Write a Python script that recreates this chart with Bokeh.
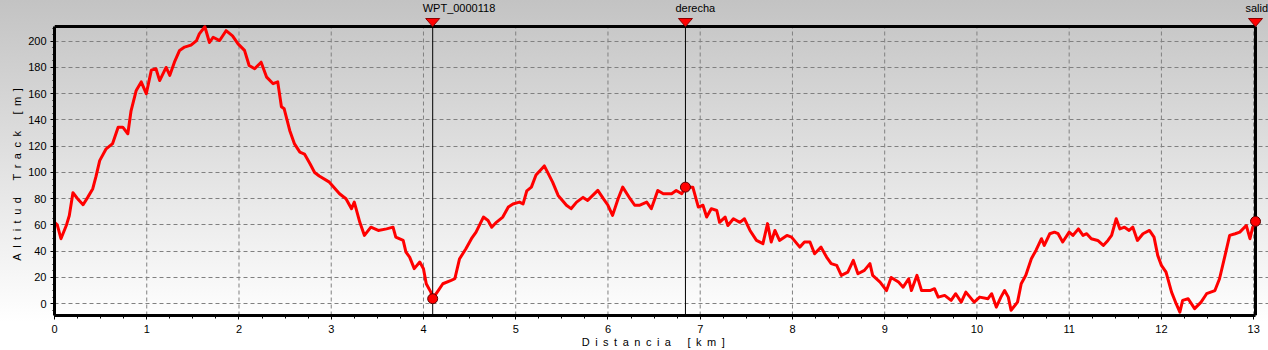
from bokeh.plotting import figure
from bokeh.models import Range1d, FixedTicker, ColumnDataSource
from bokeh.embed import file_html
from bokeh.resources import INLINE

# ---- data ----
dist_km = [0.00, 0.03, 0.07, 0.13, 0.16, 0.20, 0.25, 0.31, 0.36, 0.415, 0.45, 0.49, 0.56, 0.63, 0.69, 0.74,
           0.795, 0.83, 0.886, 0.94, 0.995, 1.05, 1.10, 1.14, 1.21, 1.25, 1.30, 1.356, 1.41, 1.48, 1.54, 1.57,
           1.63, 1.68, 1.72, 1.79, 1.86, 1.93, 1.99, 2.06, 2.11, 2.17, 2.24, 2.30, 2.37, 2.42, 2.46, 2.49,
           2.55, 2.60, 2.66, 2.71, 2.77, 2.82, 2.87, 2.98, 3.09, 3.16, 3.22, 3.25, 3.31, 3.36, 3.43, 3.51,
           3.60, 3.67, 3.70, 3.78, 3.81, 3.85, 3.90, 3.96, 4.00, 4.03, 4.08, 4.10, 4.16, 4.21, 4.30, 4.34,
           4.39, 4.46, 4.52, 4.57, 4.65, 4.70, 4.74, 4.79, 4.86, 4.92, 4.97, 5.04, 5.08, 5.12, 5.17, 5.22,
           5.31, 5.40, 5.46, 5.55, 5.60, 5.66, 5.73, 5.78, 5.89, 5.95, 6.00, 6.05, 6.11, 6.16, 6.24, 6.29,
           6.34, 6.42, 6.47, 6.54, 6.60, 6.69, 6.74, 6.80, 6.84, 6.92, 6.98, 7.03, 7.07, 7.12, 7.18, 7.21,
           7.27, 7.30, 7.36, 7.43, 7.48, 7.54, 7.61, 7.68, 7.73, 7.77, 7.81, 7.86, 7.94, 7.99, 8.08, 8.13,
           8.19, 8.24, 8.31, 8.37, 8.42, 8.48, 8.53, 8.60, 8.66, 8.71, 8.78, 8.84, 8.87, 8.95, 9.02, 9.07,
           9.15, 9.20, 9.26, 9.29, 9.35, 9.40, 9.49, 9.54, 9.58, 9.65, 9.72, 9.77, 9.83, 9.88, 9.97, 10.03,
           10.12, 10.16, 10.21, 10.26, 10.30, 10.34, 10.37, 10.44, 10.48, 10.53, 10.59, 10.64, 10.70, 10.73,
           10.79, 10.84, 10.88, 10.93, 11.00, 11.04, 11.10, 11.15, 11.19, 11.24, 11.31, 11.37, 11.42, 11.46,
           11.51, 11.55, 11.60, 11.65, 11.69, 11.74, 11.80, 11.87, 11.92, 11.96, 12.00, 12.05, 12.11, 12.16,
           12.20, 12.23, 12.29, 12.36, 12.43, 12.49, 12.58, 12.63, 12.69, 12.74, 12.80, 12.85, 12.92, 12.96,
           12.99, 13.02]
alt_m = [62, 60, 49.5, 60, 67, 84.5, 80, 75.4, 81, 87.6, 97, 109, 118, 122, 134.5, 134.5,
         129.5, 147, 162.5, 169, 160, 178, 179, 170, 180, 174, 184, 193, 195.5, 197, 200.5, 205.6,
         211, 199, 203, 200.5, 208, 204, 198, 193, 181.5, 179, 184, 172.6, 167.6, 169, 150, 148.5,
         132, 122, 115.5, 114, 106.6, 100, 97.3, 92.6, 83.8, 80, 72.4, 77.4, 62, 52, 58.3, 55.8,
         57, 58.3, 50.7, 48.2, 39.3, 35.5, 26.7, 31.7, 26.7, 15.2, 8.8, 3.8, 10, 15.2, 17.7, 19,
         34, 41.9, 49.5, 54.5, 66, 63.4, 58.3, 62, 66, 73.6, 76, 77.4, 76, 86, 88.8, 98,
         105, 92.6, 82.5, 75, 72.4, 77.4, 81, 78.7, 86.3, 80, 75, 67.3, 80, 88.8, 80, 75,
         75, 77.4, 72.4, 86.3, 83.8, 83.8, 86.3, 83.8, 88.8, 88.8, 73.6, 75, 66, 72.4, 71, 62,
         66, 59.6, 64.7, 62, 64.7, 55.8, 48.2, 45.7, 61, 47, 55.8, 48.2, 52, 50.7, 43.1, 47,
         47, 38, 43.1, 35.5, 30.5, 29.2, 21.6, 24, 33, 22.8, 25.4, 30.5, 21.6, 16.5, 10, 20,
         16.5, 12.6, 19, 10, 21.6, 10, 10, 11.4, 5, 6.3, 2.5, 7.6, 1.2, 8.8, 1.2, 5,
         3.8, 7.6, -2.6, 5, 10, 5, -5, 1.2, 15.2, 21.6, 34.3, 40.6, 49.5, 44.4,
         53.3, 54.5, 53.3, 47, 54.5, 52, 57, 52, 53.3, 49.5, 48.2, 44.4, 48.2, 52,
         64.7, 57, 58.3, 55.8, 58.3, 48.2, 53.3, 55.8, 50.7, 36.8, 29.2, 24, 8.8, 0,
         -6.4, 2.5, 3.8, -3.8, 1.2, 7.6, 10, 19, 36.8, 52, 53.3, 54.5, 59.6, 49.5,
         58.3, 62.7]

wp_names = ["WPT_0000118", "derecha", "salida"]
wp_dist = [4.10, 6.84, 13.02]
wp_alt = [3.8, 88.8, 62.7]

x_ticks = list(range(0, 14))
y_ticks = list(range(0, 201, 20))
x_minor = [t / 4 for t in range(0, 53)]
y_minor = [t * 5 for t in range(-1, 43)]
EN = "\u2002"
# trailing spaces keep the titles centred on the visible box rather than the wider frame
x_label = EN.join("Distancia") + EN * 3 + EN.join("[km]") + EN * 3
y_label = (EN.join("Altitud") + EN * 3 + EN.join("Track") + EN * 3 + EN.join("[m]") + EN * 6)

# ---- layout ----
X0, X1 = 0.0, 13.02          # visible box, data units
Y0, Y1 = -9.0, 211.2
W, H = 1268, 350
BOX_L, BOX_R, BOX_T, BOX_B = 54, 1255, 26, 315   # box edges in canvas pixels
ppx = (BOX_R - BOX_L) / (X1 - X0)
ppy = (BOX_B - BOX_T) / (Y1 - Y0)
XE = X1 + (W - BOX_R) / ppx   # frame reaches the canvas' right and top edges
YE = Y1 + BOX_T / ppy

FONT = "Liberation Sans"

p = figure(width=W, height=H, x_range=Range1d(X0, XE), y_range=Range1d(Y0, YE),
           output_backend="svg", toolbar_location=None,
           min_border_left=BOX_L, min_border_right=0, min_border_top=0,
           min_border_bottom=H - BOX_B)
p.styles = {"background-image": "linear-gradient(to bottom, #c3c3c3 0px, #ffffff 322px)"}
p.background_fill_alpha = 0
p.border_fill_alpha = 0
p.outline_line_color = None

for ax, ticks, minor, bounds in ((p.xaxis[0], x_ticks, x_minor, (X0, X1)),
                                 (p.yaxis[0], y_ticks, y_minor, (Y0, Y1))):
    ax.ticker = FixedTicker(ticks=ticks, minor_ticks=minor)
    ax.bounds = bounds
    ax.axis_line_color = "black"
    ax.axis_line_width = 3
    ax.major_tick_line_color = "black"
    ax.minor_tick_line_color = "black"
    ax.major_tick_in = 0
    ax.minor_tick_in = 0
    ax.major_label_text_font = FONT
    ax.major_label_text_font_size = "11px"
    ax.major_label_text_color = "black"
    ax.axis_label_text_font = FONT
    ax.axis_label_text_font_size = "11px"
    ax.axis_label_text_font_style = "normal"
    ax.axis_label_text_color = "black"

p.xaxis.axis_label = x_label
p.yaxis.axis_label = y_label
p.xaxis.major_tick_out = 4
p.xaxis.minor_tick_out = 3
p.xaxis.major_label_standoff = 5
p.xaxis.axis_label_standoff = 0
p.yaxis.major_tick_out = 4
p.yaxis.minor_tick_out = 2
p.yaxis.major_label_standoff = 4
p.yaxis.axis_label_standoff = 2

# horizontal grid from the library; vertical grid limited to the box
p.xgrid.visible = False
p.ygrid.ticker = FixedTicker(ticks=y_ticks)
p.ygrid.grid_line_color = "#808080"
p.ygrid.grid_line_dash = "4 3"
p.ygrid.bounds = (X0, X1)
p.segment(x0=x_ticks, y0=[Y0] * len(x_ticks), x1=x_ticks, y1=[Y1] * len(x_ticks),
          line_color="#808080", line_dash="4 3", line_width=1)

# box: top and right sides
p.segment(x0=[X0, X1], y0=[Y1, Y0], x1=[X1, X1], y1=[Y1, Y1],
          line_color="black", line_width=3)

src = ColumnDataSource(dict(x=dist_km, y=alt_m))
p.line("x", "y", source=src, line_color="#ff0000", line_width=3, line_join="round")

# waypoints
p.segment(x0=wp_dist, y0=[Y0] * 3, x1=wp_dist, y1=[Y1] * 3, line_color="black", line_width=1)
tri_xs = [[wx - 7 / ppx, wx + 7 / ppx, wx] for wx in wp_dist]
tri_ys = [[Y1 + 8 / ppy, Y1 + 8 / ppy, Y1] for _ in wp_dist]
p.patches(tri_xs, tri_ys, fill_color="#ff0000", line_color="#8b0000", line_width=1)
p.text(x=wp_dist, y=[Y1 + 19 / ppy] * 3, text=wp_names, x_offset=-10,
       text_align="left", text_baseline="middle", text_font_size="11px",
       text_font={"value": FONT}, text_color="black")
p.scatter(wp_dist, wp_alt, size=10, fill_color="#ff0000", line_color="#5a0000", line_width=1)

open("out.html", "w").write(file_html(p, INLINE))
